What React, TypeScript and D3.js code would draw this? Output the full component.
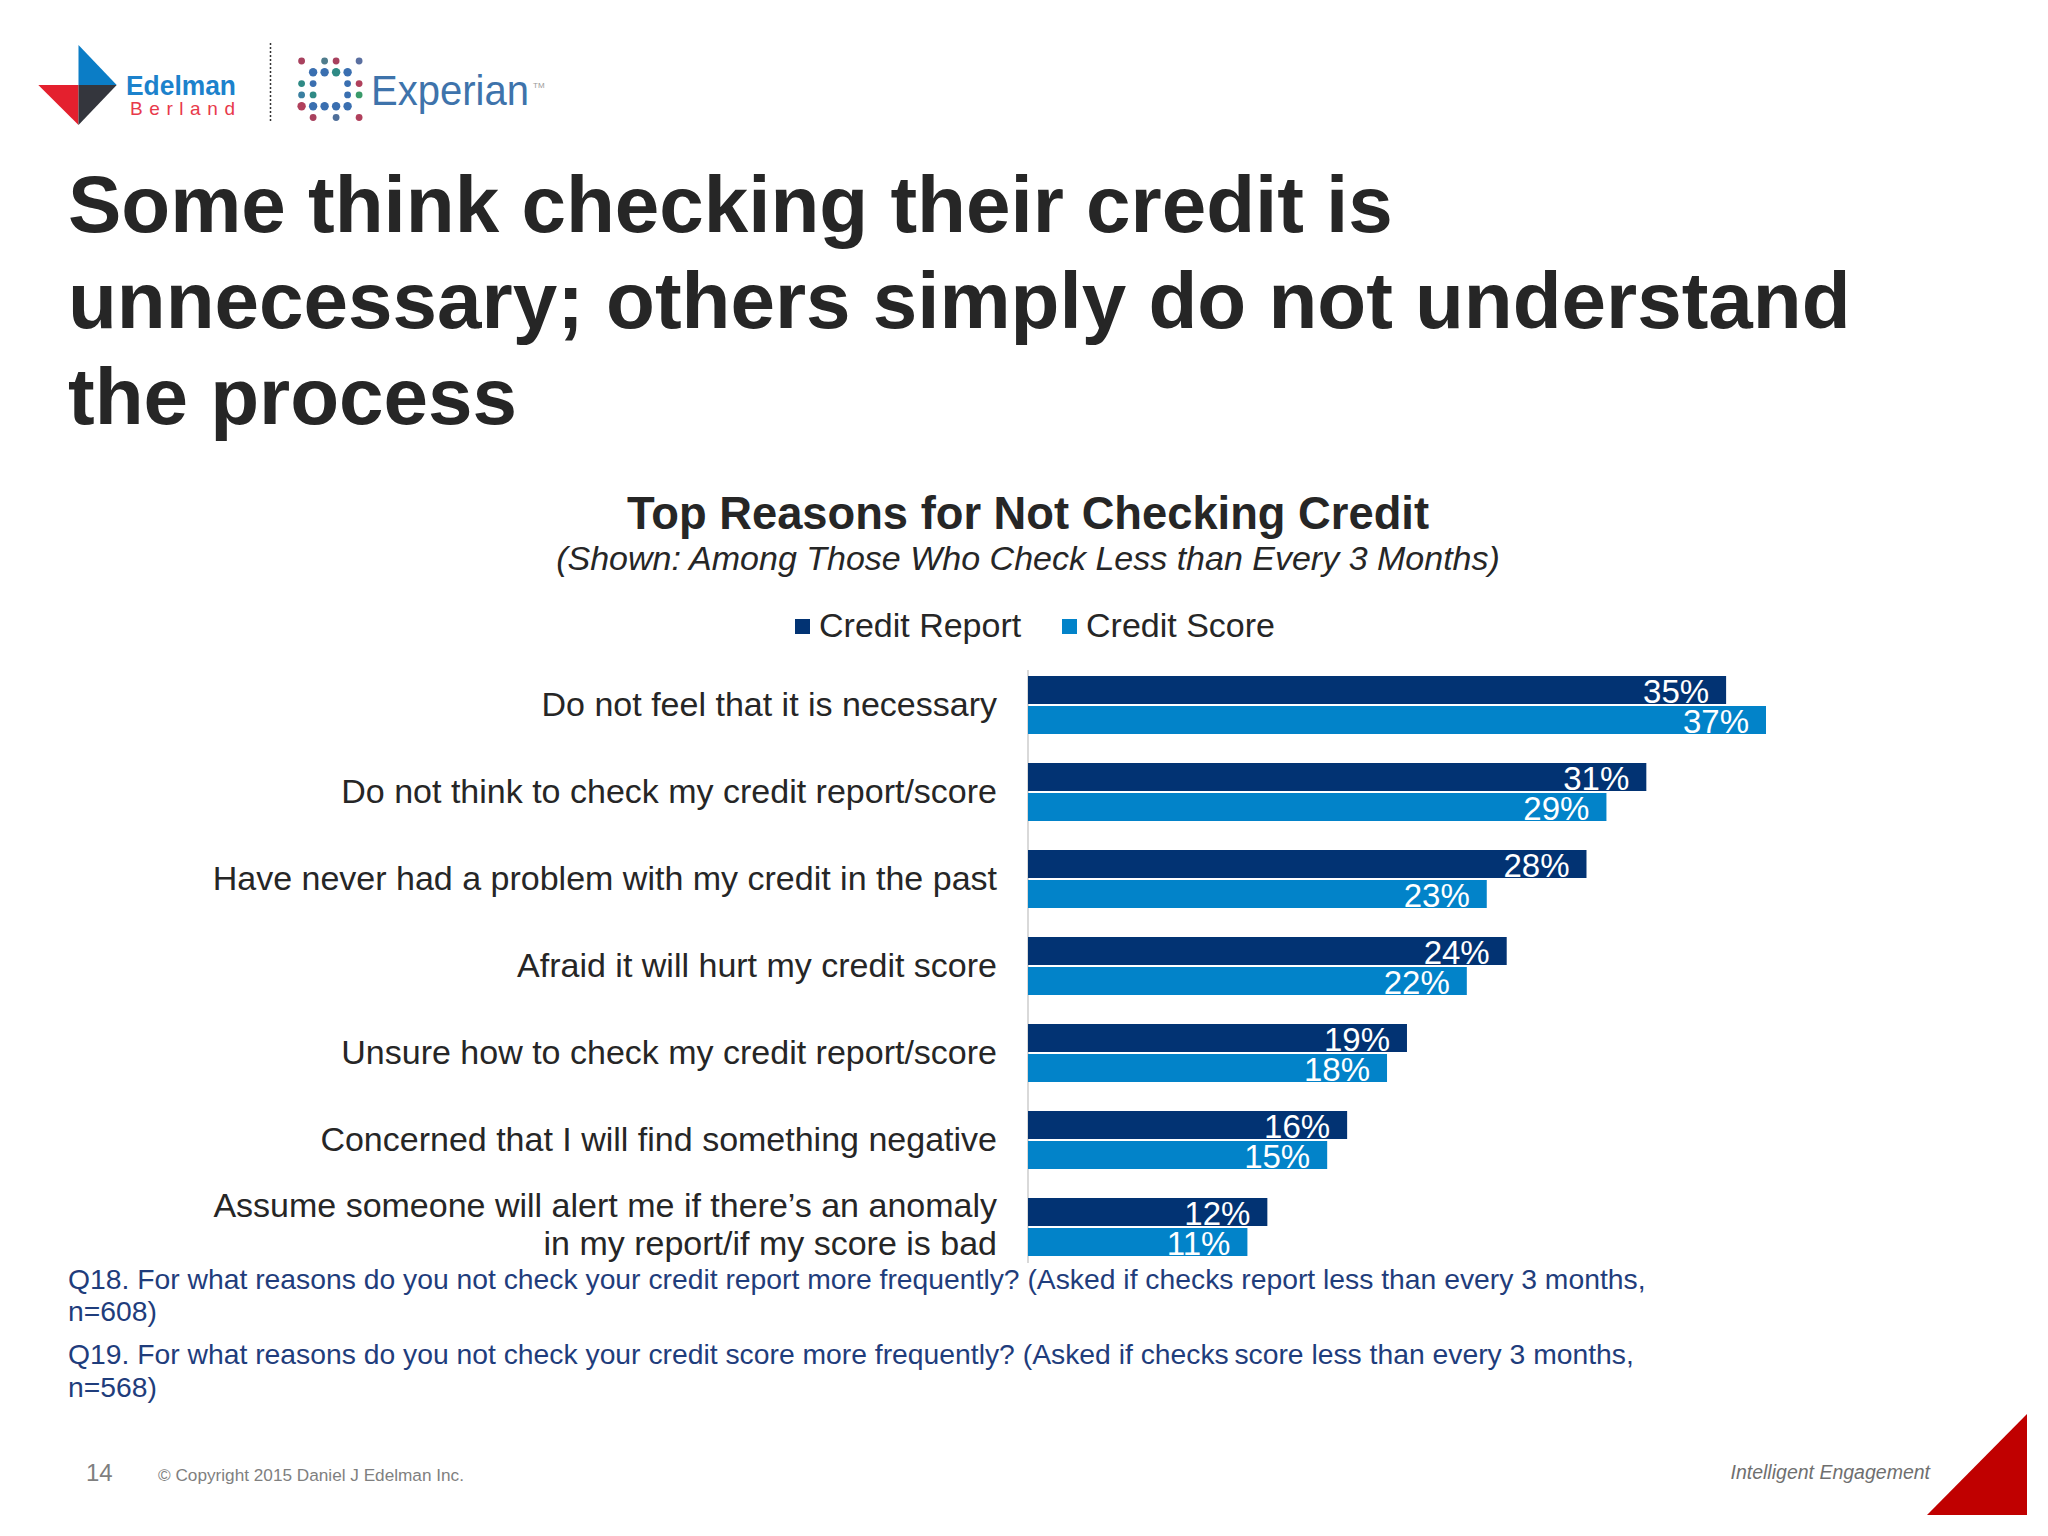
import React from "react";
import * as d3 from "d3";

const categories = [
  "Do not feel that it is necessary",
  "Do not think to check my credit report/score",
  "Have never had a problem with my credit in the past",
  "Afraid it will hurt my credit score",
  "Unsure how to check my credit report/score",
  "Concerned that I will find something negative",
  "Assume someone will alert me if there\u2019s an anomaly\nin my report/if my score is bad",
];
const seriesNames = ["Credit Report", "Credit Score"];
const creditReport = [35, 31, 28, 24, 19, 16, 12];
const creditScore = [37, 29, 23, 22, 18, 15, 11];
const seriesColors = ["#023373", "#0283C9"];

const titleLines = [
  "Some think checking their credit is",
  "unnecessary; others simply do not understand",
  "the process",
];
const chartTitle = "Top Reasons for Not Checking Credit";
const chartSubtitle = "(Shown: Among Those Who Check Less than Every 3 Months)";
const footnotes = [
  "Q18. For what reasons do you not check your credit report more frequently? (Asked if checks report less than every 3 months,",
  "n=608)",
  "Q19. For what reasons do you not check your credit score more frequently? (Asked if checks\u2009score less than every 3 months,",
  "n=568)",
];

type Dot = [number, number, string];
const expDots: Dot[] = [
  [0, 0, "#a8415e"], [2, 0, "#4f7c8c"], [3, 0, "#a8415e"], [5, 0, "#5a6fa0"],
  [1, 1, "#3a6fb0"], [2, 1, "#3a6fb0"], [3, 1, "#2f8a85"], [4, 1, "#3a6fb0"],
  [0, 2, "#2f8a85"], [1, 2, "#3a6fb0"], [4, 2, "#3a6fb0"], [5, 2, "#b0405c"],
  [0, 3, "#3a7fa0"], [1, 3, "#2f8a85"], [4, 3, "#3a6fb0"], [5, 3, "#3a9a6a"],
  [0, 4, "#b0405c"], [1, 4, "#3a6fb0"], [2, 4, "#3a6fb0"], [3, 4, "#3a6fb0"], [4, 4, "#3a6fb0"],
  [1, 5, "#a8415e"], [3, 5, "#4f6f9a"], [5, 5, "#b0405c"],
];

const FONT = "'Liberation Sans', Arial, sans-serif";

export default function App() {
  const W = 2048;
  const H = 1536;
  const axisX = 1028;

  const x = d3.scaleLinear().domain([0, 37]).range([axisX, axisX + 738]);
  const y = d3
    .scaleBand<string>()
    .domain(categories)
    .range([661.5, 1270.5])
    .paddingInner(29 / 87)
    .paddingOuter(29 / 174);
  const ySub = d3
    .scaleBand<string>()
    .domain(seriesNames)
    .range([0, y.bandwidth()])
    .paddingInner(2 / 30);

  const series = [creditReport, creditScore];

  return (
    <svg
      width={W}
      height={H}
      viewBox={`0 0 ${W} ${H}`}
      style={{ position: "absolute", left: 0, top: 0, background: "#ffffff" }}
      fontFamily={FONT}
    >
      <rect x={0} y={0} width={W} height={H} fill="#ffffff" />

      {/* Edelman Berland logo */}
      <g>
        <polygon points="78.5,45 116.7,85 78.5,85" fill="#0B7DC6" />
        <polygon points="38.3,85 78.5,85 78.5,125" fill="#E4202E" />
        <polygon points="78.5,85 116.7,85 78.5,125" fill="#34363d" />
        <text x={126} y={95} fontSize={27} fontWeight="bold" fill="#1C82CC" textLength={110} lengthAdjust="spacingAndGlyphs">
          Edelman
        </text>
        <text x={130} y={115} fontSize={19} fill="#E8394A" textLength={105} lengthAdjust="spacing">
          Berland
        </text>
      </g>
      <line x1={270.5} x2={270.5} y1={43} y2={123} stroke="#333" strokeWidth={1.5} strokeDasharray="2,2" />

      {/* Experian logo */}
      <g>
        {expDots.map(([c, r, col], i) => (
          <circle key={i} cx={301.6 + c * 11.5} cy={61 + r * 11.3} r={r === 1 || r === 4 ? 4.2 : 3.4} fill={col} />
        ))}
        <text x={371} y={105} fontSize={43} fill="#3E73AB" textLength={158} lengthAdjust="spacingAndGlyphs">
          Experian
        </text>
        <text x={533} y={88} fontSize={8} fill="#9a9a9a">
          TM
        </text>
      </g>

      {/* Slide title */}
      {titleLines.map((t, i) => (
        <text key={i} x={68} y={232 + i * 96} fontSize={80} fontWeight="bold" fill="#262626">
          {t}
        </text>
      ))}

      {/* Chart title */}
      <text x={1028} y={529} textAnchor="middle" fontSize={45.3} fontWeight="bold" fill="#262626">
        {chartTitle}
      </text>
      <text x={1028} y={570} textAnchor="middle" fontSize={34} fontStyle="italic" fill="#262626">
        {chartSubtitle}
      </text>

      {/* Legend */}
      {seriesNames.map((s, i) => {
        const lx = [795, 1062][i];
        return (
          <g key={s}>
            <rect x={lx} y={619} width={15} height={15} fill={seriesColors[i]} />
            <text x={lx + 24} y={637} fontSize={34} fill="#262626">
              {s}
            </text>
          </g>
        );
      })}

      {/* Axis line */}
      <line x1={axisX} x2={axisX} y1={670} y2={1263} stroke="#d9d9d9" strokeWidth={2} />

      {/* Bars */}
      {categories.map((c, ci) => (
        <g key={c} transform={`translate(0,${y(c)})`}>
          {seriesNames.map((s, si) => {
            const v = series[si][ci];
            const by = ySub(s)!;
            const bh = ySub.bandwidth();
            return (
              <g key={s}>
                <rect x={x(0)} y={by} width={x(v) - x(0)} height={bh} fill={seriesColors[si]} />
                <text x={x(v) - 17} y={by + bh - 1} textAnchor="end" fontSize={33} fill="#ffffff">
                  {v}%
                </text>
              </g>
            );
          })}
        </g>
      ))}

      {/* Category labels */}
      {categories.map((c) => {
        const lines = c.split("\n");
        const cy = y(c)! + y.bandwidth() / 2;
        const first = cy + 10.5 - (lines.length - 1) * 20.5;
        return (
          <text key={c} x={997} textAnchor="end" fontSize={34} fill="#262626">
            {lines.map((l, i) => (
              <tspan key={i} x={997} y={first + i * 38}>
                {l}
              </tspan>
            ))}
          </text>
        );
      })}

      {/* Footnotes */}
      {footnotes.map((f, i) => (
        <text key={i} x={68} y={[1289, 1321, 1364, 1397][i]} fontSize={28.3} fill="#1F3D7C">
          {f}
        </text>
      ))}

      {/* Footer */}
      <text x={86} y={1481} fontSize={24} fill="#7f7f7f">
        14
      </text>
      <text x={158} y={1481} fontSize={17.2} fill="#7f7f7f">
        © Copyright 2015 Daniel J Edelman Inc.
      </text>
      <text x={1930} y={1479} textAnchor="end" fontSize={19.5} fontStyle="italic" fill="#6f6f6f">
        Intelligent Engagement
      </text>
      <polygon points="2027,1414 2027,1515 1927,1515" fill="#C00000" />
    </svg>
  );
}
